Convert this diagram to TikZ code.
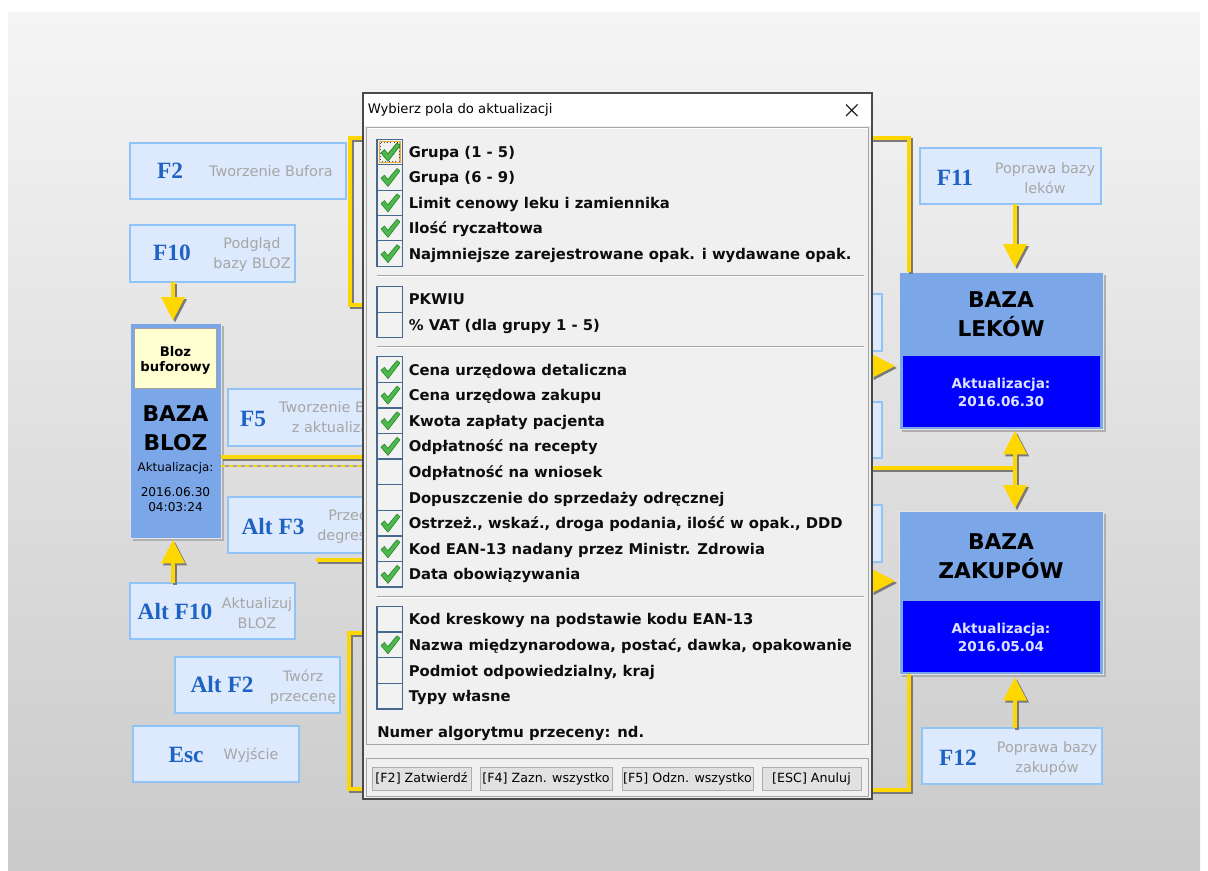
\documentclass[tikz,border=0pt]{standalone}
\usepackage{fontspec}
\setmainfont{DejaVu Sans}
\newfontfamily\keyfont{Liberation Serif}
\usetikzlibrary{arrows.meta}
\definecolor{bgtop}{HTML}{F5F5F5}
\definecolor{bgbot}{HTML}{CACACA}
\definecolor{keyfill}{HTML}{DDE9FC}
\definecolor{keyline}{HTML}{92C3F7}
\definecolor{keyblue}{HTML}{1E63C4}
\definecolor{descgray}{HTML}{A6A6A6}
\definecolor{midblue}{HTML}{7BA6E8}
\definecolor{deepblue}{HTML}{0000FF}
\definecolor{cream}{HTML}{FFFFD2}
\definecolor{gold}{HTML}{FFD700}
\definecolor{shade}{HTML}{7A7A7A}
\definecolor{boxedge}{HTML}{E4E4E4}
\definecolor{dlgbg}{HTML}{F0F0F0}
\definecolor{dlgedge}{HTML}{4A4A4A}
\definecolor{panelline}{HTML}{A6A6A6}
\definecolor{cbline}{HTML}{45698F}
\definecolor{cbfill}{HTML}{F2F2F2}
\definecolor{tickgreen}{HTML}{4DB84D}
\definecolor{tickdark}{HTML}{2E8B2E}
\definecolor{btnfill}{HTML}{E1E1E1}
\definecolor{btnline}{HTML}{ADADAD}
\definecolor{lav}{HTML}{DCE3FF}
\definecolor{focus}{HTML}{E8A838}
\newcommand\pxbox[7]{\node[#6, minimum width={((#4)-(#2))*0.75pt}, minimum height={((#5)-(#3))*0.75pt}] (#1) at ({((#2)+(#4))/2},{((#3)+(#5))/2}) {#7};}
\newcommand\tickat[2]{\filldraw[fill=tickgreen, draw=tickdark, line width=0.5pt, line join=round, shift={(#1,#2)}] (3.5,13.5) -- (7,10.5) -- (10.2,14.8) -- (19.5,3.8) -- (22.5,6.2) -- (10.5,21.8) -- cycle;}
\newcommand\conn[2][]{\draw[sh,#1,transform canvas={shift={(1.5pt,-1.5pt)}}] #2; \draw[yl,#1] #2;}
\tikzset{
 keybox/.style={draw=keyline, line width=1.2pt, fill=keyfill, inner sep=0pt, outer sep=0pt},
 keylbl/.style={font=\keyfont\bfseries\fontsize{17.5}{20}\selectfont, text=keyblue, inner sep=0pt},
 desc/.style={font=\fontsize{10.8}{15}\selectfont, text=descgray, align=center, inner sep=0pt},
 dbbox/.style={fill=midblue, draw=boxedge, line width=0.75pt, inner sep=0pt, outer sep=0pt},
 deep/.style={fill=deepblue, inner sep=0pt, outer sep=0pt},
 bigt/.style={font=\bfseries\fontsize{16.3}{21.5}\selectfont, align=center, inner sep=0pt},
 lavt/.style={font=\bfseries\fontsize{10.2}{13.5}\selectfont, text=lav, align=center, inner sep=0pt},
 yl/.style={draw=gold, line width=2.3pt},
 sh/.style={draw=shade, line width=2.3pt},
 tipa/.style={-{Triangle[width=17.5pt,length=17.5pt]}},
 tipb/.style={{Triangle[width=17.5pt,length=17.5pt]}-{Triangle[width=17.5pt,length=17.5pt]}},
 cbox/.style={draw=cbline, line width=0.8pt, fill=cbfill, inner sep=0pt, outer sep=0pt},
 rowtxt/.style={font=\bfseries\fontsize{11.1}{13}\selectfont, text=black!95, inner sep=0pt},
 btn/.style={draw=btnline, line width=0.75pt, fill=btnfill, inner sep=0pt, outer sep=0pt, font=\fontsize{9.5}{11}\selectfont},
}
\begin{document}
\begin{tikzpicture}[x=0.75pt,y=-0.75pt]
\useasboundingbox (0,0) rectangle (1208,871);
\fill[white] (0,0) rectangle (1208,871);
\shade[top color=bgtop, bottom color=bgbot] (8,12) rectangle (1200,871);

% helper coordinates
\coordinate (c173) at (173,0);
\coordinate (c909) at (909,0);
\coordinate (c1015) at (1015,0);

% shadows of the data boxes
\fill[shade!60] (133,326) rectangle (224,541);
\fill[shade!60] (902,275) rectangle (1106,432);
\fill[shade!60] (902,514) rectangle (1106,677);

% ---- left key boxes
\pxbox{f2}{130}{143}{346}{199}{keybox}{}
\pxbox{f10}{130}{225}{295}{282}{keybox}{}
\pxbox{f5}{228}{389}{420}{446}{keybox}{}
\pxbox{altf3}{228}{497}{420}{553}{keybox}{}
\pxbox{altf10}{130}{583}{295}{639}{keybox}{}
\pxbox{altf2}{175}{657}{340}{713}{keybox}{}
\pxbox{esc}{133}{726}{299}{782}{keybox}{}
% ---- right key boxes
\pxbox{f11}{920}{148}{1101}{204}{keybox}{}
\pxbox{f12}{922}{728}{1102}{784}{keybox}{}
\pxbox{hr1}{800}{294}{882}{351}{keybox}{}
\pxbox{hr2}{800}{402}{882}{458}{keybox}{}
\pxbox{hr3}{800}{505}{882}{562}{keybox}{}

% ---- data boxes
\pxbox{bloz}{130}{323}{221}{538}{dbbox}{}
\pxbox{bufor}{134.5}{328.5}{216.5}{388}{fill=cream, draw=shade!70, line width=0.75pt, inner sep=0pt, outer sep=0pt}{}
\pxbox{lek}{899}{272}{1103}{429}{dbbox}{}
\pxbox{lekd}{903}{356}{1100}{427}{deep}{}
\pxbox{zak}{899}{511}{1103}{674}{dbbox}{}
\pxbox{zakd}{903}{601}{1100}{672}{deep}{}

% ---- connectors
\coordinate (lt1) at (366,138); \coordinate (lt2) at (366,305);
\conn{(lt1) -- (350,138) -- (350,305) -- (lt2)}
\coordinate (lb1) at (366,633); \coordinate (lb2) at (366,789);
\conn{(lb1) -- (349,633) -- (349,789) -- (lb2)}
\conn[tipa, shorten >=2pt]{(f10.south -| c173) -- (bloz.north -| c173)}
\conn[tipa, shorten >=1.5pt]{(altf10.north -| c173) -- (bloz.south -| c173)}
\coordinate (p457) at (366,457);
\conn{(bloz.east |- p457) -- (p457)}
\coordinate (p466) at (366,466);
\draw[shade!70, line width=0.9pt] (bloz.east |- p466) -- (p466);
\draw[gold, line width=0.9pt, dash pattern=on 3pt off 3pt] (bloz.east |- p466) -- (p466);
\coordinate (p560a) at (316,560); \coordinate (p560b) at (366,560);
\conn{(p560a) -- (p560b)}
\coordinate (rt1) at (869,138);
\conn{(rt1) -- (909,138) -- (lek.north -| c909)}
\conn[tipa, shorten >=3.5pt]{(f11.south -| c1015) -- (lek.north -| c1015)}
\coordinate (ra1) at (869,366);
\conn[tipa, shorten >=3pt]{(ra1) -- (lek.west |- ra1)}
\coordinate (ra2) at (869,581);
\conn[tipa, shorten >=3pt]{(ra2) -- (zak.west |- ra2)}
\coordinate (rm) at (869,468);
\conn{(rm) -- (rm -| c1015)}
\conn[tipb, shorten >=2pt, shorten <=1.5pt]{(lek.south -| c1015) -- (zak.north -| c1015)}
\conn[tipa, shorten >=2.5pt]{(f12.north -| c1015) -- (zak.south -| c1015)}
\coordinate (rb) at (869,790);
\conn{(zak.south -| c909) -- (909,790) -- (rb)}

% ---- key labels and descriptions
\node[keylbl] (f2k) at (170,171) {F2};
\node[desc] (f2d) at (271,171) {Tworzenie Bufora};
\node[keylbl] (f10k) at (172,253) {F10};
\node[desc] (f10d) at (252,255) {Podgląd\\bazy BLOZ};
\node[keylbl] (f5k) at (253,419) {F5};
\node[desc] (f5d) at (341,419) {Tworzenie Bufora\\z aktualizacją};
\node[keylbl] (altf3k) at (273,527) {Alt F3};
\node[desc] (altf3d) at (361,527) {Przecena\\degresywna};
\node[keylbl] (altf10k) at (175,612) {Alt F10};
\node[desc] (altf10d) at (257,613) {Aktualizuj\\BLOZ};
\node[keylbl] (altf2k) at (222,685) {Alt F2};
\node[desc] (altf2d) at (303,687) {Twórz\\przecenę};
\node[keylbl] (esck) at (186,755) {Esc};
\node[desc] (escd) at (251,755) {Wyjście};
\node[keylbl] (f11k) at (955,178) {F11};
\node[desc] (f11d) at (1045,178.5) {Poprawa bazy\\leków};
\node[keylbl] (f12k) at (958,758) {F12};
\node[desc] (f12d) at (1047,758.5) {Poprawa bazy\\zakupów};

% ---- data box texts
\node[font=\bfseries\fontsize{9.9}{11.25}\selectfont, align=center, inner sep=0pt] (bufort) at (175.5,360) {Bloz\\buforowy};
\node[bigt] (blozt) at (175.5,428.5) {BAZA\\BLOZ};
\node[font=\fontsize{8.9}{11}\selectfont, inner sep=0pt] (blozak) at (175.5,468) {Aktualizacja:};
\node[font=\fontsize{9.1}{11.25}\selectfont, align=center, inner sep=0pt] (blozdt) at (175.5,499.5) {2016.06.30\\04:03:24};
\node[bigt] (lekt) at (1001,314) {BAZA\\LEKÓW};
\node[lavt] (lekdt) at (1001,392) {Aktualizacja:\\2016.06.30};
\node[bigt] (zakt) at (1001,556) {BAZA\\ZAKUPÓW};
\node[lavt] (zakdt) at (1001,637) {Aktualizacja:\\2016.05.04};

% ---- dialog
\pxbox{dlg}{363}{93}{872}{799}{draw=dlgedge, line width=0.8pt, fill=dlgbg, inner sep=0pt, outer sep=0pt}{}
\fill[white] (363.6,93.6) rectangle (871.4,126);
\node[anchor=west, font=\fontsize{9.9}{11}\selectfont, inner sep=0pt] (ttl) at (367.5,110) {Wybierz pola do aktualizacji};
\draw[black!85, line width=0.85pt] (846,104.5) -- (857.5,116) (846,116) -- (857.5,104.5);
\draw[panelline, line width=0.75pt] (366,127.5) rectangle (868,744);
\draw[white, line width=0.75pt] (367,128.5) -- (867,128.5);
\draw[panelline, line width=0.75pt] (366,758) rectangle (868,796);
\foreach \sy in {275,346,596}{
  \draw[panelline, line width=0.75pt] (377,\sy) -- (864,\sy);
  \draw[white, line width=0.75pt] (377,\sy+1) -- (864,\sy+1);
}
\foreach \yc/\ck/\tx [count=\i] in {
  152/1/{Grupa (1 - 5)},
  177.4/1/{Grupa (6 - 9)},
  202.8/1/{Limit cenowy leku i zamiennika},
  228.2/1/{Ilość ryczałtowa},
  253.6/1/{Najmniejsze zarejestrowane opak. i wydawane opak.},
  299.4/0/{PKWIU},
  324.8/0/{\% VAT (dla grupy 1 - 5)},
  369.5/1/{Cena urzędowa detaliczna},
  395.1/1/{Cena urzędowa zakupu},
  420.7/1/{Kwota zapłaty pacjenta},
  446.3/1/{Odpłatność na recepty},
  471.9/0/{Odpłatność na wniosek},
  497.5/0/{Dopuszczenie do sprzedaży odręcznej},
  523.1/1/{Ostrzeż., wskaź., droga podania, ilość w opak., DDD},
  548.7/1/{Kod EAN-13 nadany przez Ministr. Zdrowia},
  574.3/1/{Data obowiązywania},
  618.9/0/{Kod kreskowy na podstawie kodu EAN-13},
  644.7/1/{Nazwa międzynarodowa, postać, dawka, opakowanie},
  670.5/0/{Podmiot odpowiedzialny, kraj},
  696.3/0/{Typy własne}}{
  \pxbox{cb\i}{377}{\yc-12.7}{402.5}{\yc+12.7}{cbox}{}
  \node[rowtxt, anchor=base west] (rt\i) at (408.5,\yc+5.5) {\tx};
  \ifnum\ck=1 \tickat{377.5}{\yc-12.7}\fi
}
\draw[focus, line width=1pt] (379.5,141.8) rectangle (400,162.2);
\draw[black!70, line width=0.5pt, dotted] (380.5,142.8) rectangle (399,161.2);
\tickat{377.5}{139.3}
\node[rowtxt, anchor=base west] (numer) at (377,737.2) {Numer algorytmu przeceny: nd.};
\pxbox{b1}{372}{767}{471}{790}{btn}{[F2] Zatwierdź}
\pxbox{b2}{480}{767}{612}{790}{btn}{[F4] Zazn. wszystko}
\pxbox{b3}{622}{767}{753}{790}{btn}{[F5] Odzn. wszystko}
\pxbox{b4}{762}{767}{861}{790}{btn}{[ESC] Anuluj}
\end{tikzpicture}
\end{document}
